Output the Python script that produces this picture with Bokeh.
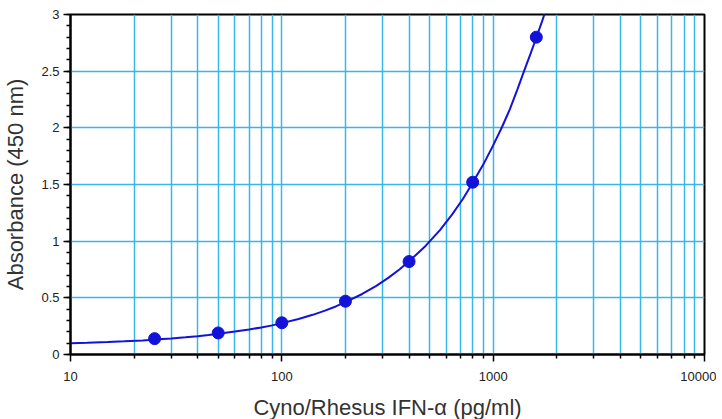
from bokeh.plotting import figure
from bokeh.models import FixedTicker, NumeralTickFormatter
from bokeh.embed import file_html
from bokeh.resources import INLINE

# measured standards
conc = [25, 50, 100, 200, 400, 800, 1600]
absorb = [0.14, 0.19, 0.28, 0.47, 0.82, 1.52, 2.80]

# fitted curve
curve_x = [10, 12, 15, 18, 22, 25, 30, 35, 40, 45, 50, 60, 70, 80, 90, 100,
           120, 140, 160, 180, 200, 240, 280, 320, 360, 400, 480, 560, 640, 720,
           800, 900, 1000, 1100, 1200, 1300, 1400, 1500, 1600, 1700, 1750]
curve_y = [0.100, 0.104, 0.110, 0.116, 0.124, 0.132, 0.142, 0.152, 0.162, 0.172, 0.184,
           0.202, 0.221, 0.239, 0.257, 0.277, 0.313, 0.350, 0.387, 0.424, 0.462,
           0.534, 0.606, 0.678, 0.750, 0.822, 0.960, 1.098, 1.236, 1.374, 1.515,
           1.680, 1.845, 2.005, 2.165, 2.335, 2.500, 2.650, 2.795, 2.935, 3.005]

x_major = [10, 100, 1000, 10000]
x_minor = [m * d for d in (10, 100, 1000) for m in range(2, 10)]
y_major = [0, 0.5, 1, 1.5, 2, 2.5, 3]
y_minor = [i / 10 for i in range(0, 31)]

blue = "#1212d8"
cyan = "#35b8e8"

p = figure(x_axis_type="log", x_range=(10, 10000), y_range=(0, 3),
           frame_width=634, frame_height=340,
           min_border_left=69, min_border_right=12, min_border_top=14, min_border_bottom=60,
           output_backend="svg", toolbar_location=None,
           x_axis_label="Cyno/Rhesus IFN-α (pg/ml)", y_axis_label="Absorbance (450 nm)")

p.xaxis.ticker = FixedTicker(ticks=x_major, minor_ticks=x_minor)
p.xaxis.formatter = NumeralTickFormatter(format="0")
p.yaxis.ticker = FixedTicker(ticks=y_major, minor_ticks=y_minor)

for ax in (p.xaxis, p.yaxis):
    ax.axis_line_color = "black"
    ax.axis_line_width = 2
    ax.major_tick_line_color = "black"
    ax.minor_tick_line_color = "black"
    ax.major_tick_line_width = 1.5
    ax.minor_tick_line_width = 1.5
    ax.major_tick_in = 0
    ax.minor_tick_in = 0
    ax.major_tick_out = 7
    ax.minor_tick_out = 4
    ax.major_label_text_font = "Liberation Sans"
    ax.major_label_text_font_size = "13px"
    ax.major_label_text_color = "#222222"
    ax.axis_label_text_font = "Liberation Sans"
    ax.axis_label_text_font_size = "22px"
    ax.axis_label_text_font_style = "normal"
    ax.axis_label_text_color = "#333333"

p.xaxis.major_label_standoff = 10
p.xaxis.axis_label_standoff = 11
p.yaxis.major_label_standoff = 4
p.yaxis.axis_label_standoff = 10

p.xgrid.ticker = FixedTicker(ticks=x_major, minor_ticks=x_minor)
p.xgrid.grid_line_color = cyan
p.xgrid.grid_line_width = 1.5
p.xgrid.minor_grid_line_color = cyan
p.xgrid.minor_grid_line_width = 1.5
p.ygrid.ticker = FixedTicker(ticks=y_major)
p.ygrid.grid_line_color = cyan
p.ygrid.grid_line_width = 1.5

p.outline_line_color = "black"
p.outline_line_width = 2
p.outline_line_alpha = 1

p.line(curve_x, curve_y, line_color=blue, line_width=2)
p.scatter(conc, absorb, size=12, fill_color=blue, line_color=blue)

open("out.html", "w").write(file_html(p, INLINE))
